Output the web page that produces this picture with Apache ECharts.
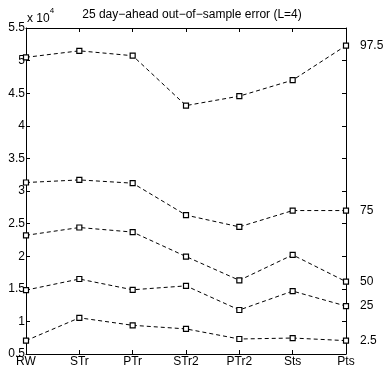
<!DOCTYPE html>
<html><head><meta charset="utf-8">
<script src="https://cdn.jsdelivr.net/npm/echarts@6/dist/echarts.min.js"></script>
<style>html,body{margin:0;padding:0;background:#fff}#c{width:384px;height:372px}</style>
</head><body><div id="c"></div>
<script>
const categories = ['RW','STr','PTr','STr2','PTr2','Sts','Pts'];
const seriesNames = ['97.5','75','50','25','2.5'];
// values in units of 10^4
const p975 = [5.05, 5.15, 5.075, 4.31, 4.455, 4.70, 5.23];
const p75  = [3.13, 3.17, 3.12, 2.63, 2.45, 2.70, 2.70];
const p50  = [2.32, 2.44, 2.37, 1.995, 1.63, 2.02, 1.61];
const p25  = [1.48, 1.65, 1.485, 1.545, 1.175, 1.465, 1.235];
const p025 = [0.705, 1.055, 0.94, 0.885, 0.73, 0.745, 0.705];
const yTicks = [0.5,1,1.5,2,2.5,3,3.5,4,4.5,5,5.5];
const titleText = '25 day\u2212ahead out\u2212of\u2212sample error (L=4)';

const allData = [p975, p75, p50, p25, p025];
const font = 'Liberation Sans, Arial, sans-serif';
const chart = echarts.init(document.getElementById('c'));
chart.setOption({
  animation: false,
  backgroundColor: '#fff',
  title: { text: titleText, left: 187, top: 4, textAlign: 'center',
    textStyle: { fontFamily: font, fontSize: 12, fontWeight: 'normal', color: '#000' } },
  graphic: [{ type: 'text', left: 27, top: 7,
    style: { text: '{a|x 10}{b|4}', rich: {
      a: { fontFamily: font, fontSize: 12, fill: '#000', padding: [6,0,0,0] },
      b: { fontFamily: font, fontSize: 8, fill: '#000', verticalAlign: 'top' } } } }],
  grid: { left: 26, right: 38, top: 28, bottom: 18, containLabel: false },
  xAxis: [{
    type: 'category', data: categories, boundaryGap: false,
    axisLine: { lineStyle: { color: '#000', width: 1 } },
    axisTick: { inside: true, length: 4, alignWithLabel: true, lineStyle: { color: '#000' } },
    axisLabel: { fontFamily: font, fontSize: 12, color: '#000', margin: 2 },
    splitLine: { show: false }
  }, {
    type: 'category', data: categories, boundaryGap: false, position: 'top',
    axisLine: { lineStyle: { color: '#000', width: 1 } },
    axisTick: { inside: true, length: 4, lineStyle: { color: '#000' } },
    axisLabel: { show: false }
  }],
  yAxis: [{
    type: 'value', min: 0.5, max: 5.5, interval: 0.5,
    axisLine: { show: true, lineStyle: { color: '#000', width: 1 } },
    axisTick: { show: true, inside: true, length: 4, lineStyle: { color: '#000' } },
    axisLabel: { fontFamily: font, fontSize: 12, color: '#000', margin: 1,
      formatter: v => (yTicks.indexOf(v) >= 0 ? String(v) : '') },
    splitLine: { show: false }
  }, {
    type: 'value', min: 0.5, max: 5.5, interval: 0.5, position: 'right',
    axisLine: { show: true, lineStyle: { color: '#000', width: 1 } },
    axisTick: { show: true, inside: true, length: 4, lineStyle: { color: '#000' } },
    axisLabel: { show: false }, splitLine: { show: false }
  }],
  series: allData.map((d, i) => ({
    name: seriesNames[i], type: 'line', data: d,
    symbol: 'rect', symbolSize: 5, showAllSymbol: true,
    lineStyle: { color: '#000', width: 1, type: [4, 3] },
    itemStyle: { color: '#fff', borderColor: '#000', borderWidth: 1.2 },
    endLabel: { show: true, formatter: seriesNames[i], distance: 14,
      fontFamily: font, fontSize: 12, color: '#000' }
  }))
});
</script></body></html>
